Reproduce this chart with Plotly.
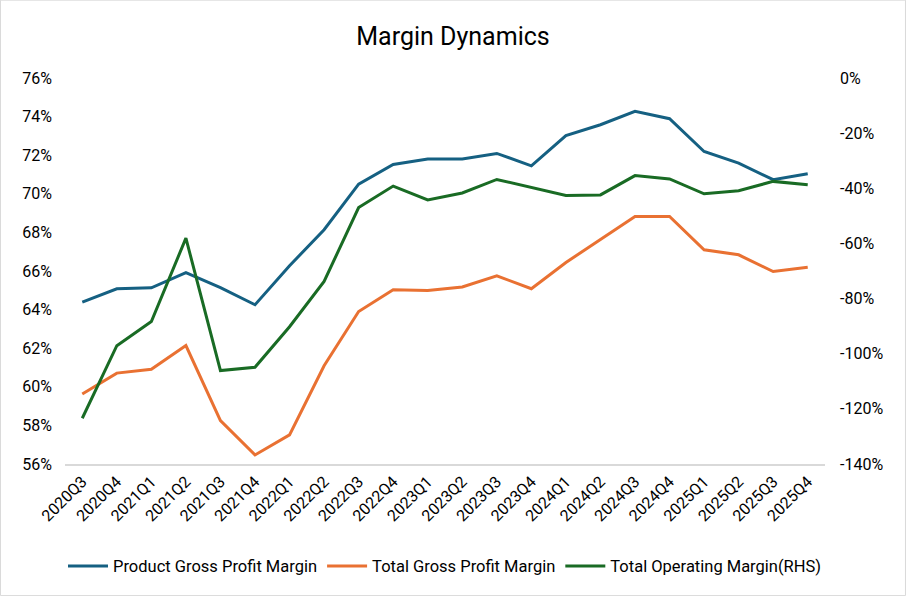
import plotly.graph_objects as go

quarters = ["2020Q3", "2020Q4", "2021Q1", "2021Q2", "2021Q3", "2021Q4",
            "2022Q1", "2022Q2", "2022Q3", "2022Q4", "2023Q1", "2023Q2",
            "2023Q3", "2023Q4", "2024Q1", "2024Q2", "2024Q3", "2024Q4",
            "2025Q1", "2025Q2", "2025Q3", "2025Q4"]

product_gpm = [64.39, 65.08, 65.13, 65.92, 65.14, 64.25, 66.27, 68.14, 70.50, 71.52, 71.80,
               71.80, 72.09, 71.45, 73.02, 73.58, 74.27, 73.89, 72.19, 71.59, 70.73, 71.04]
total_gpm = [59.63, 60.71, 60.91, 62.14, 58.25, 56.47, 57.51, 61.09, 63.90, 65.03, 64.99,
             65.17, 65.75, 65.08, 66.44, 67.65, 68.83, 68.83, 67.10, 66.84, 65.97, 66.20]
total_opm = [-123.4, -97.1, -88.3, -58.1, -106.1, -104.9, -90.2, -73.8, -47.0, -39.2, -44.2,
             -41.7, -36.8, -39.6, -42.6, -42.4, -35.4, -36.6, -42.0, -40.9, -37.5, -38.7]

left_ticks = [56, 58, 60, 62, 64, 66, 68, 70, 72, 74, 76]
right_ticks = [-140, -120, -100, -80, -60, -40, -20, 0]

FONT = "Roboto, Arial"

fig = go.Figure()
fig.add_trace(go.Scatter(x=quarters, y=product_gpm, name="Product Gross Profit Margin",
                         mode="lines", line=dict(color="#156082", width=3)))
fig.add_trace(go.Scatter(x=quarters, y=total_gpm, name="Total Gross Profit Margin",
                         mode="lines", line=dict(color="#E97132", width=3)))
fig.add_trace(go.Scatter(x=quarters, y=total_opm, name="Total Operating Margin(RHS)",
                         mode="lines", line=dict(color="#196B24", width=3), yaxis="y2"))

fig.update_layout(
    width=906, height=596,
    margin=dict(l=65, r=81, t=78, b=132),
    paper_bgcolor="white", plot_bgcolor="white",
    font=dict(family=FONT, size=14, color="#404040"),
    title=dict(text="Margin Dynamics", x=0.5, xanchor="center", y=0.94, yanchor="middle",
               font=dict(family=FONT, size=25, color="#000000")),
    xaxis=dict(type="category", range=[-0.5, 21.5], tickangle=-45, showgrid=False,
               showline=True, linecolor="#D9D9D9", linewidth=2, ticks="",
               tickfont=dict(size=16, color="#000000")),
    yaxis=dict(range=[56, 76], tickvals=left_ticks,
               ticktext=[f"{v}%" for v in left_ticks], showgrid=False, zeroline=False,
               ticks="", tickfont=dict(size=16, color="#000000"), ticklabelstandoff=12),
    yaxis2=dict(range=[-140, 0], tickvals=right_ticks,
                ticktext=[f"{v}%" for v in right_ticks], overlaying="y", side="right",
                showgrid=False, zeroline=False, ticks="",
                tickfont=dict(size=16, color="#000000"), ticklabelstandoff=14),
    legend=dict(orientation="h", x=0.5, xanchor="center", y=-0.265, yanchor="middle",
                font=dict(size=16.5, color="#000000"), itemwidth=40, tracegroupgap=0),
    showlegend=True,
)

fig.add_shape(type="rect", xref="paper", yref="paper",
              x0=-0.0849, x1=1.1059, y0=-0.3409, y1=1.2017,
              line=dict(color="#D9D9D9", width=1), layer="below")

fig.write_html("out.html", config={"displayModeBar": False},
               post_script="document.body.style.margin='0';")
